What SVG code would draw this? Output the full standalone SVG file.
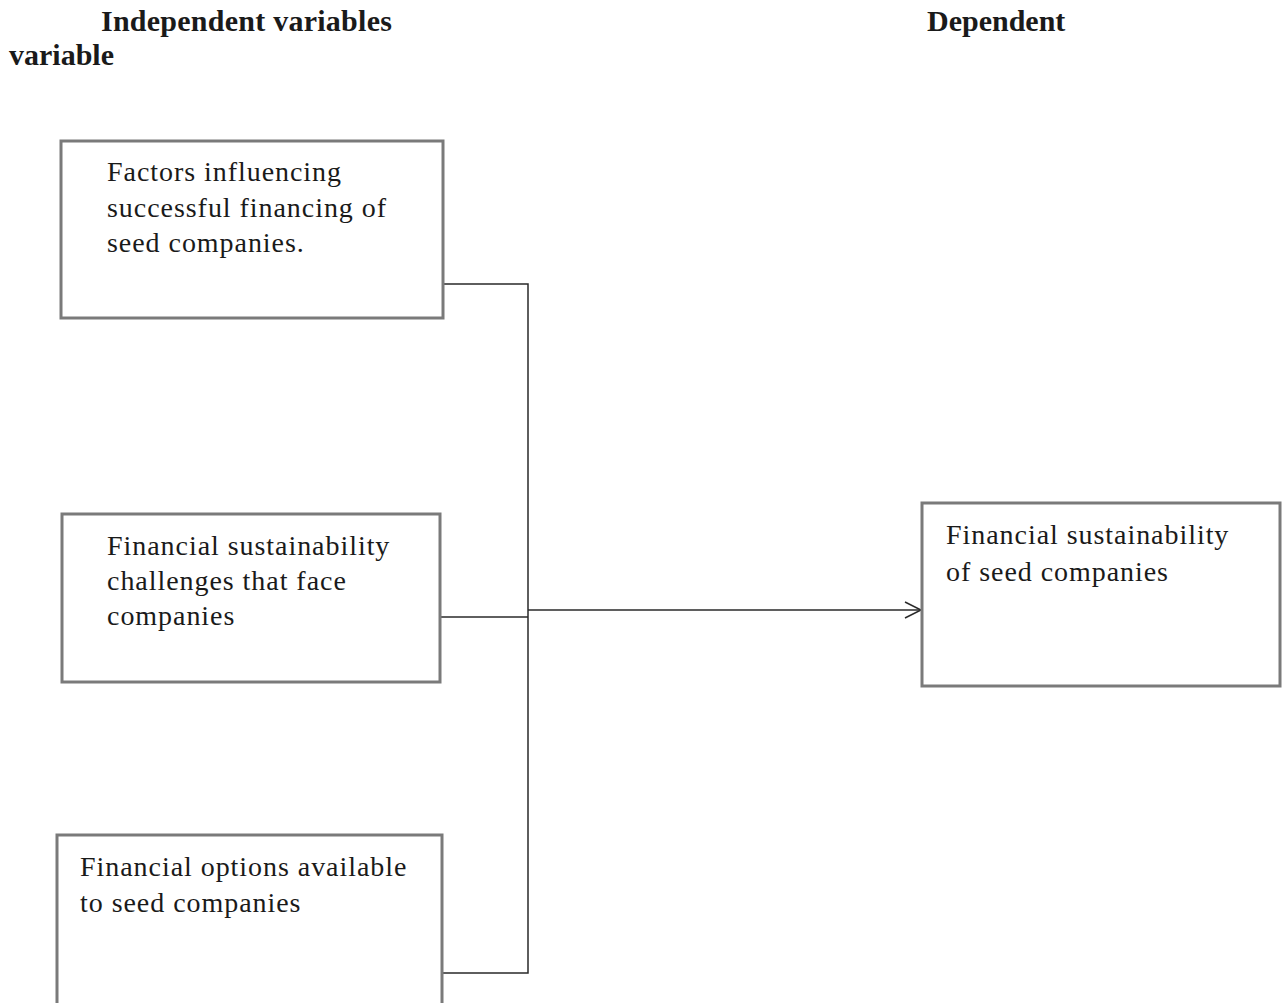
<svg xmlns="http://www.w3.org/2000/svg" width="1288" height="1003" viewBox="0 0 1288 1003">
<style>
.box{fill:#fff;stroke:#7a7a7a;stroke-width:3}
.t{font-family:"Liberation Serif","Times New Roman",serif;font-size:28px;fill:#1a1a1a;letter-spacing:0.95px}
.h{font-family:"Liberation Serif","Times New Roman",serif;font-size:30px;font-weight:bold;fill:#1a1a1a}
.c{fill:none;stroke:#2a2a2a;stroke-width:1.5}
</style>
<defs>
<marker id="arr" markerWidth="20" markerHeight="20" refX="17" refY="9" orient="auto" markerUnits="userSpaceOnUse">
<path d="M1,1 L17,9 L1,17" fill="none" stroke="#2a2a2a" stroke-width="1.5"/>
</marker>
</defs>
<rect width="1288" height="1003" fill="#fff"/>
<g id="headers">
<text class="h" x="101" y="31" letter-spacing="0.25">Independent variables</text>
<text class="h" x="927" y="31">Dependent</text>
<text class="h" x="9" y="65">variable</text>
</g>
<g id="connectors">
<polyline class="c" points="443,284 528,284 528,973 442,973"/>
<line class="c" x1="440" y1="617" x2="528" y2="617"/>
<line class="c" x1="528" y1="610" x2="921" y2="610" marker-end="url(#arr)"/>
</g>
<g id="node1">
<rect class="box" x="61" y="141" width="382" height="177"/>
<text class="t" x="107" y="181">Factors influencing</text>
<text class="t" x="107" y="217">successful financing of</text>
<text class="t" x="107" y="252">seed companies.</text>
</g>
<g id="node2">
<rect class="box" x="62" y="514" width="378" height="168"/>
<text class="t" x="107" y="555">Financial sustainability</text>
<text class="t" x="107" y="590">challenges that face</text>
<text class="t" x="107" y="625">companies</text>
</g>
<g id="node3">
<rect class="box" x="57" y="835" width="385" height="200"/>
<text class="t" x="80" y="876">Financial options available</text>
<text class="t" x="80" y="912">to seed companies</text>
</g>
<g id="node4">
<rect class="box" x="922" y="503" width="358" height="183"/>
<text class="t" x="946" y="544">Financial sustainability</text>
<text class="t" x="946" y="581">of seed companies</text>
</g>
</svg>
